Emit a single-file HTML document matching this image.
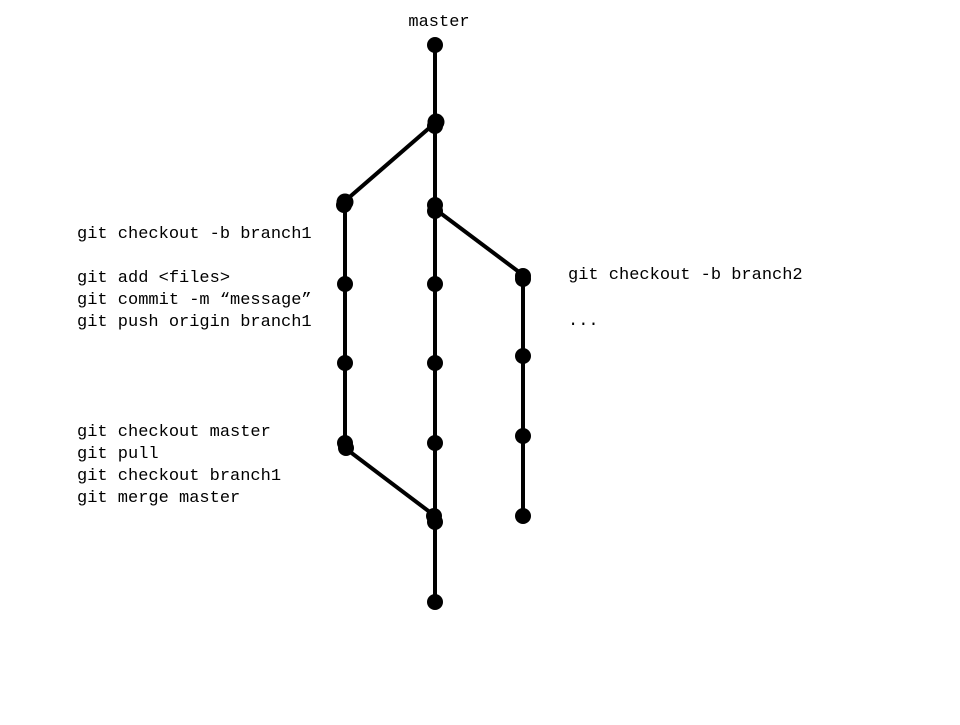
<!DOCTYPE html>
<html><head><style>
html,body{margin:0;padding:0;background:#fff;}
svg text{font-family:"Liberation Mono",monospace;font-size:17px;fill:#000;}
</style></head><body>
<svg width="960" height="720" viewBox="0 0 960 720" xmlns="http://www.w3.org/2000/svg">
<rect width="960" height="720" fill="#fff"/>
<g stroke="#000" stroke-width="4" fill="none">
<line x1="435" y1="45" x2="435" y2="602"/>
<line x1="345" y1="203" x2="345" y2="447"/>
<line x1="523" y1="277" x2="523" y2="516"/>
<line x1="435" y1="123" x2="345" y2="201"/>
<line x1="435" y1="209" x2="523" y2="275"/>
<line x1="345" y1="448" x2="435" y2="516"/>
</g>
<g fill="#000">
<circle cx="435" cy="45" r="8"/>
<circle cx="436" cy="122" r="8.5"/><circle cx="435" cy="126" r="8"/>
<circle cx="345" cy="202" r="8.5"/><circle cx="344" cy="205" r="8"/>
<circle cx="435" cy="205" r="8"/><circle cx="435" cy="211" r="8"/>
<circle cx="345" cy="284" r="8"/><circle cx="435" cy="284" r="8"/>
<circle cx="523" cy="276" r="8"/><circle cx="523" cy="279" r="8"/>
<circle cx="345" cy="363" r="8"/><circle cx="435" cy="363" r="8"/>
<circle cx="523" cy="356" r="8"/>
<circle cx="345" cy="443" r="8"/><circle cx="346" cy="448" r="8"/>
<circle cx="435" cy="443" r="8"/>
<circle cx="523" cy="436" r="8"/>
<circle cx="434" cy="516" r="8"/><circle cx="435" cy="522" r="8"/>
<circle cx="523" cy="516" r="8"/>
<circle cx="435" cy="602" r="8"/>
</g>
<text x="439" y="26" text-anchor="middle">master</text>
<text x="77" y="238">git checkout -b branch1</text>
<text x="77" y="282">git add &lt;files&gt;</text>
<text x="77" y="304">git commit -m “message”</text>
<text x="77" y="326">git push origin branch1</text>
<text x="77" y="436">git checkout master</text>
<text x="77" y="458">git pull</text>
<text x="77" y="480">git checkout branch1</text>
<text x="77" y="502">git merge master</text>
<text x="568" y="279">git checkout -b branch2</text>
<text x="568" y="325">...</text>
</svg>
</body></html>
